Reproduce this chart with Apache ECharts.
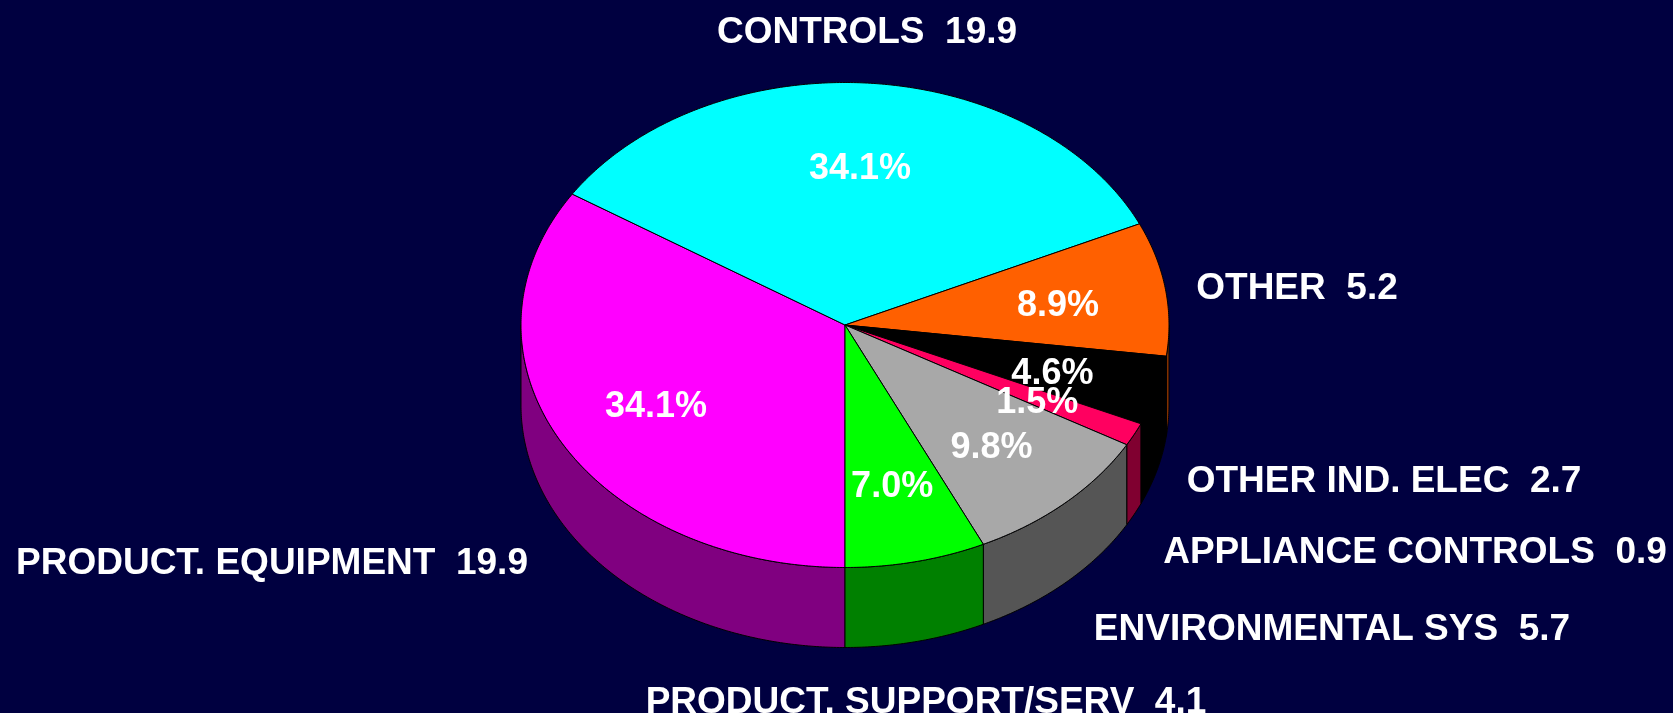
<!DOCTYPE html>
<html>
<head>
<meta charset="utf-8">
<script src="https://cdn.jsdelivr.net/npm/echarts@6/dist/echarts.min.js"></script>
<style>
  html, body { margin: 0; padding: 0; background: #000040; }
  #chart { width: 1673px; height: 713px; }
</style>
</head>
<body>
<div id="chart"></div>
<script>
// ---- data ----
const categories = ['PRODUCT. EQUIPMENT', 'CONTROLS', 'OTHER', 'OTHER IND. ELEC', 'APPLIANCE CONTROLS', 'ENVIRONMENTAL SYS', 'PRODUCT. SUPPORT/SERV'];
const values = [19.9, 19.9, 5.2, 2.7, 0.9, 5.7, 4.1];

// ---- styles ----
const topColors = ['#FF00FF', '#00FFFF', '#FF6000', '#000000', '#FF0060', '#A8A8A8', '#00FF00'];
const sideColors = ['#800080', '#008080', '#803000', '#000000', '#800030', '#555555', '#008000'];
// outer label anchors (center x, middle y)
const labelPos = [[272, 564], [867, 33], [1297, 289], [1384, 482], [1415, 553], [1332, 630], [926, 703]];

const geo = { cx: 845, cy: 325, rx: 324, ry: 242.5, depth: 80, startAngle: -90, labelR: 0.665, textDy: 5 };
const FONT = 'bold 37px "Liberation Sans", Arial, sans-serif';
const PFONT = 'bold 36px "Liberation Sans", Arial, sans-serif';

const total = values.reduce((a, b) => a + b, 0);
const angles = [];
(function () {
  let a = geo.startAngle;
  values.forEach(v => {
    const sweep = v / total * 360;
    angles.push([a, a - sweep]); // clockwise on screen: decreasing math angle
    a -= sweep;
  });
})();

function pt(deg, dy) {
  const r = deg * Math.PI / 180;
  return [geo.cx + geo.rx * Math.cos(r), geo.cy - geo.ry * Math.sin(r) + (dy || 0)];
}
function arc(from, to, dy) {
  const pts = [];
  const n = Math.max(2, Math.ceil(Math.abs(to - from) / 0.5));
  for (let i = 0; i <= n; i++) pts.push(pt(from + (to - from) * i / n, dy));
  return pts;
}

function renderItem(params, api) {
  const i = params.dataIndex;
  const v = api.value(0);
  const [aStart, aEnd] = angles[i];
  const children = [];
  // front walls: visible where sin < 0 -> intervals [-180+360k, 360k]
  const lo = aEnd, hi = aStart;
  for (let k = -2; k <= 1; k++) {
    const wl = -180 + 360 * k, wh = 360 * k;
    const l = Math.max(lo, wl), h = Math.min(hi, wh);
    if (h - l > 0.01) {
      const topArc = arc(l, h, 0);
      const botArc = arc(h, l, geo.depth);
      children.push({
        type: 'polygon', z2: 1,
        shape: { points: topArc.concat(botArc) },
        style: { fill: sideColors[i], stroke: '#000', lineWidth: 1 }
      });
    }
  }
  // top sector
  const pts = [[geo.cx, geo.cy]].concat(arc(aStart, aEnd, 0));
  children.push({
    type: 'polygon', z2: 10,
    shape: { points: pts },
    style: { fill: topColors[i], stroke: '#000', lineWidth: 1 }
  });
  // percent label
  const mid = (aStart + aEnd) / 2 * Math.PI / 180;
  children.push({
    type: 'text', z2: 20,
    x: geo.cx + geo.labelR * geo.rx * Math.cos(mid),
    y: geo.cy - geo.labelR * geo.ry * Math.sin(mid) + geo.textDy,
    style: { text: (v / total * 100).toFixed(1) + '%', fill: '#fff', font: PFONT, align: 'center', verticalAlign: 'middle' }
  });
  // outer label
  children.push({
    type: 'text', z2: 20,
    x: labelPos[i][0], y: labelPos[i][1],
    style: { text: categories[i] + '  ' + v.toFixed(1), fill: '#fff', font: FONT, align: 'center', verticalAlign: 'middle' }
  });
  return { type: 'group', children };
}

const chart = echarts.init(document.getElementById('chart'), null, { renderer: 'canvas', width: 1673, height: 713 });
chart.setOption({
  backgroundColor: '#000040',
  animation: false,
  series: [{
    type: 'custom',
    coordinateSystem: 'none',
    renderItem: renderItem,
    data: values.map((v, i) => ({ name: categories[i], value: [v] }))
  }]
});
</script>
</body>
</html>
